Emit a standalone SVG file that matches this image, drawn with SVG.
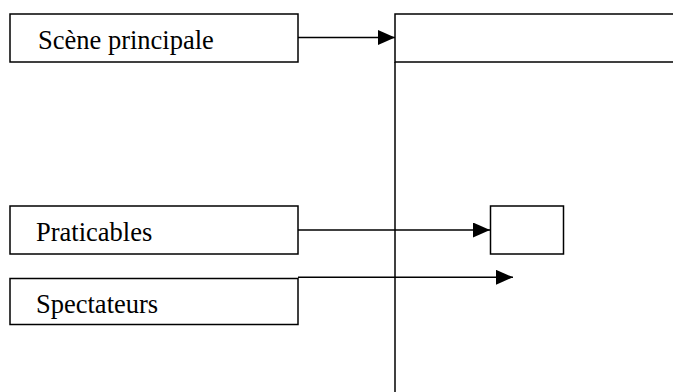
<svg xmlns="http://www.w3.org/2000/svg" width="673" height="392" viewBox="0 0 673 392">
<style>
.box{fill:#fff;stroke:#000;stroke-width:1.5}
.ln{fill:none;stroke:#000;stroke-width:1.5}
.lbl{font-family:"Liberation Serif","Times New Roman",serif;font-size:26.5px;fill:#000}
</style>
<defs>
<marker id="ah" markerWidth="17" markerHeight="15" refX="17" refY="7.5" orient="auto" markerUnits="userSpaceOnUse">
<path d="M0,0 L17,7.5 L0,15 Z" fill="#000"/>
</marker>
</defs>
<rect width="673" height="392" fill="#fff"/>
<g id="stage">
<rect class="box" x="395" y="14" width="290" height="48"/>
<line class="ln" x1="395" y1="62" x2="395" y2="392"/>
</g>
<g id="small-box">
<rect class="box" x="490.5" y="206" width="73" height="48"/>
</g>
<g id="scene-principale">
<rect class="box" x="10" y="14" width="288" height="48"/>
<text class="lbl" x="38" y="49">Scène principale</text>
</g>
<g id="praticables">
<rect class="box" x="10" y="206" width="288" height="48"/>
<text class="lbl" x="36" y="240.5">Praticables</text>
</g>
<g id="spectateurs">
<rect class="box" x="10" y="278.5" width="288" height="46"/>
<text class="lbl" x="36" y="313">Spectateurs</text>
</g>
<g id="connectors">
<line class="ln" x1="298" y1="37.5" x2="395" y2="37.5" marker-end="url(#ah)"/>
<line class="ln" x1="298" y1="230" x2="490" y2="230" marker-end="url(#ah)"/>
<line class="ln" x1="298" y1="277.3" x2="513" y2="277.3" marker-end="url(#ah)"/>
</g>
</svg>
